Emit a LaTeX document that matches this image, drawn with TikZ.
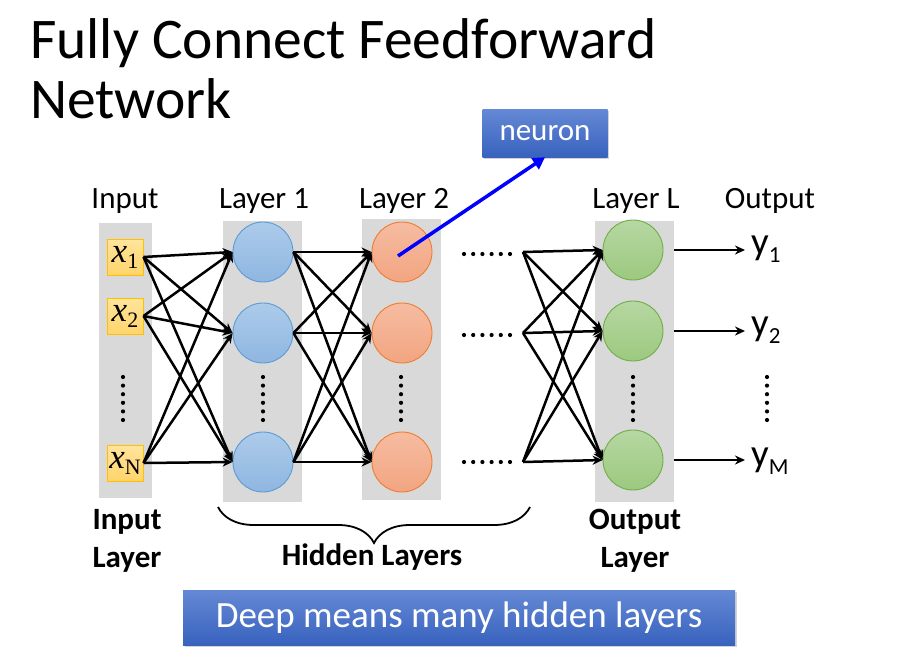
\documentclass[tikz,border=0pt]{standalone}
\usepackage{fontspec}
\setmainfont{Carlito}
\newfontfamily\tnr{Liberation Serif}
\usetikzlibrary{arrows.meta,positioning,calc,shadows,decorations.pathreplacing}

\definecolor{colgrey}{HTML}{D9D9D9}
\definecolor{intop}{HTML}{FFE49C}
\definecolor{inbot}{HTML}{FFD46B}
\definecolor{inedge}{HTML}{FFC000}
\definecolor{bluetop}{HTML}{ADCBEA}
\definecolor{bluebot}{HTML}{8FB6E1}
\definecolor{blueedge}{HTML}{5B9BD5}
\definecolor{redtop}{HTML}{F6BCA1}
\definecolor{redbot}{HTML}{F2A581}
\definecolor{rededge}{HTML}{ED7D31}
\definecolor{greentop}{HTML}{B6D7A2}
\definecolor{greenbot}{HTML}{9CC97F}
\definecolor{greenedge}{HTML}{70AD47}
\definecolor{boxtop}{HTML}{6589D5}
\definecolor{boxbot}{HTML}{3862BE}

\newcommand{\invar}[1]{{\tnr\itshape x}\raisebox{-6pt}{\tnr\fontsize{22}{22}\selectfont #1}}
\newcommand{\outvar}[1]{y\raisebox{-8pt}{\fontsize{23}{23}\selectfont #1}}

\begin{document}
\begin{tikzpicture}[x=1pt, y=-1pt,
    font=\fontsize{31}{36}\selectfont,
    col/.style={rectangle, fill=colgrey, inner sep=0, minimum width=79, minimum height=281},
    inbox/.style={rectangle, draw=inedge, top color=intop, bottom color=inbot, line width=1pt, minimum size=36, inner sep=0, font=\fontsize{35}{35}\selectfont},
    unit/.style={circle, line width=0.9pt, minimum size=60, inner sep=0},
    bunit/.style={unit, draw=blueedge, top color=bluetop, bottom color=bluebot},
    runit/.style={unit, draw=rededge, top color=redtop, bottom color=redbot},
    gunit/.style={unit, draw=greenedge, top color=greentop, bottom color=greenbot},
    link/.style={line width=2.5pt, -{Stealth[length=10pt,width=9pt]}},
    bluebox/.style={rectangle, top color=boxtop, bottom color=boxbot, text=white, inner sep=0, drop shadow={opacity=0.35, shadow xshift=1.5pt, shadow yshift=-2pt}},
    collab/.style={anchor=base},
    botlab/.style={anchor=base, font=\fontsize{31}{36}\selectfont\bfseries},
  ]
  \useasboundingbox (0,0) rectangle (905,654);

  % title
  \node[anchor=base west, inner sep=0, font=\fontsize{57.5}{60}\selectfont] (title1) at (30,58) {Fully Connect Feedforward};
  \node[anchor=base west, inner sep=0, font=\fontsize{57.5}{60}\selectfont] (title2) at (30,118) {Network};

  % grey columns
  \node[col, minimum width=53, minimum height=275] (incol) at (125.5,360.5) {};
  \node[col] (hacol) at (262.5,361.5) {};
  \node[col] (hbcol) at (401.5,359.5) {};
  \node[col] (outcol) at (634.5,361.5) {};

  % column labels
  \node[collab] (lin) at (125,208) {Input};
  \node[collab] (lha) at (264,208) {Layer 1};
  \node[collab] (lhb) at (404,208) {Layer 2};
  \node[collab] (lout) at (636,208) {Layer L};
  \node[collab] (ly) at (770,208) {Output};

  % units
  \node[inbox] (in1) at (125,257) {\invar{1}};
  \node[inbox] (in2) at (125,316) {\invar{2}};
  \node[inbox] (in3) at (125,463) {\invar{N}};
  \node[bunit] (ha1) at (263,252) {};
  \node[bunit] (ha2) at (263,333) {};
  \node[bunit] (ha3) at (263,462) {};
  \node[runit] (hb1) at (402,252) {};
  \node[runit] (hb2) at (402,333) {};
  \node[runit] (hb3) at (402,462) {};
  \node[gunit] (o1) at (633,250) {};
  \node[gunit] (o2) at (633,331) {};
  \node[gunit] (o3) at (633,460) {};
  \coordinate (d1) at (523,252);
  \coordinate (d2) at (523,333);
  \coordinate (d3) at (523,462);

  % outputs
  \node[anchor=base west, inner sep=0, font=\fontsize{39}{42}\selectfont] (y1) at (751,254) {\outvar{1}};
  \node[anchor=base west, inner sep=0, font=\fontsize{39}{42}\selectfont] (y2) at (751,335) {\outvar{2}};
  \node[anchor=base west, inner sep=0, font=\fontsize{39}{42}\selectfont] (y3) at (751,466) {\outvar{M}};

  % dots
  \foreach \cx in {123,263,401,633,767}
    \foreach \k in {0,...,5}
      \fill (\cx,377+\k*8.6) circle (2.1);
  \foreach \ry in {254,335,462}
    \foreach \k in {0,...,5}
      \fill (464+\k*9.2,\ry) circle (2.1);

  % connections
  \foreach \i in {1,2,3}
    \foreach \j in {1,2,3} {
      \draw[link] (in\i.east) -- (ha\j.west);
      \draw[link] (ha\i.east) -- (hb\j.west);
      \draw[link] (d\i) -- (o\j.west);
    }
  \foreach \i in {1,2,3}
    \draw[link] ([xshift=11pt]o\i.east) -- ([xshift=-6pt]o\i -| y\i.west);

  % neuron
  \node[bluebox, minimum width=125, minimum height=48] (neuron) at (545,133) {neuron};
  \draw[line width=3.5pt, blue, -{Triangle[length=12pt,width=13pt]}] ([shift={(-4pt,-4pt)}]hb1.center) -- (neuron.south);

  % bottom labels
  \node[botlab] (bin1) at (127,529) {Input};
  \node[botlab] (bin2) at (127,567) {Layer};
  \node[botlab] (bout1) at (635,529) {Output};
  \node[botlab] (bout2) at (635,567) {Layer};
  \coordinate (bl) at (218,507);
  \coordinate (br) at (530,507);
  \draw[line width=1.8pt, decorate, decoration={brace, mirror, amplitude=36pt}] (bl) -- (br);
  \node[botlab] (hid) at (372,565) {Hidden Layers};

  \node[bluebox, minimum width=552, minimum height=55, font=\fontsize{37}{40}\selectfont] (deep) at (459,617.5) {Deep means many hidden layers};
\end{tikzpicture}
\end{document}
